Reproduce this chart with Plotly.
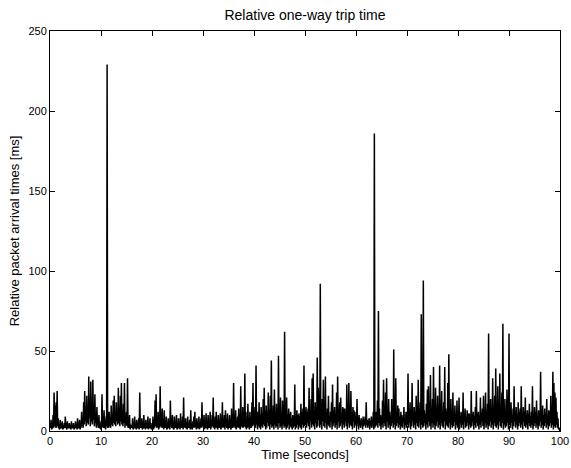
import plotly.graph_objects as go

# Sampling of the packet-delay trace (seconds between plotted samples)
sample_interval = 0.1

# Relative one-way trip time [ms], one list per 10 s.
# "pk" lists: samples at even steps (local maxima of the dense trace),
# "tr" lists: samples in between (the dense baseline near the axis).
pk_00 = [3, 7, 2, 10, 24, 16, 18, 25, 8, 2, 7, 2, 6, 2, 5, 9, 2, 6, 2, 5,
         2, 6, 2, 5, 2, 6, 3, 8, 2, 7, 3, 12, 5, 18, 25, 10, 22, 12, 34, 18,
         31, 14, 32, 12, 23, 7, 15, 4, 10, 3]
tr_00 = [2, 1, 2, 2, 3, 2, 2, 3, 2, 1, 2, 2, 1, 2, 2, 3, 1, 2, 2, 2,
         1, 2, 2, 1, 2, 2, 1, 2, 2, 1, 2, 3, 2, 4, 6, 3, 5, 4, 8, 3,
         6, 4, 7, 3, 5, 2, 4, 2, 2, 1]
pk_10 = [6, 23, 3, 13, 3, 9, 229, 4, 12, 5, 16, 8, 19, 22, 11, 18, 12, 27, 14, 22,
         30, 10, 17, 30, 8, 12, 33, 5, 10, 4, 3, 8, 2, 9, 3, 7, 2, 8, 24, 3,
         8, 2, 10, 3, 7, 2, 9, 3, 8, 2]
tr_10 = [2, 3, 2, 2, 1, 3, 2, 2, 3, 2, 4, 3, 5, 4, 3, 6, 4, 5, 3, 6,
         4, 3, 5, 2, 4, 3, 2, 2, 1, 2, 2, 1, 2, 2, 1, 2, 2, 1, 2, 2,
         1, 2, 2, 1, 2, 2, 1, 2, 2, 1]
pk_20 = [5, 9, 3, 19, 23, 7, 12, 3, 28, 8, 14, 3, 13, 3, 9, 2, 8, 3, 19, 4,
         10, 2, 9, 3, 10, 2, 8, 3, 11, 4, 9, 21, 3, 8, 2, 9, 3, 7, 13, 2,
         6, 9, 12, 3, 8, 2, 9, 3, 8, 18]
tr_20 = [2, 1, 2, 3, 2, 2, 1, 2, 3, 2, 2, 1, 2, 2, 1, 2, 2, 1, 3, 2,
         2, 1, 2, 2, 1, 2, 2, 1, 2, 2, 1, 3, 2, 2, 1, 2, 2, 1, 2, 1,
         2, 2, 3, 1, 2, 2, 1, 2, 2, 3]
pk_30 = [6, 10, 3, 11, 2, 10, 3, 12, 4, 10, 21, 3, 9, 12, 2, 10, 4, 11, 3, 18,
         7, 10, 13, 3, 11, 4, 10, 2, 14, 4, 30, 5, 13, 3, 9, 14, 4, 28, 6, 15,
         9, 36, 12, 5, 17, 3, 12, 5, 18, 30]
tr_30 = [2, 1, 2, 3, 1, 2, 2, 1, 2, 3, 2, 1, 2, 3, 1, 2, 2, 1, 3, 2,
         2, 1, 3, 2, 1, 2, 3, 1, 2, 2, 3, 2, 1, 3, 2, 2, 1, 3, 2, 2,
         3, 2, 1, 2, 3, 1, 2, 2, 3, 4]
pk_40 = [9, 15, 41, 12, 12, 18, 10, 15, 11, 20, 27, 13, 16, 9, 24, 12, 22, 44, 10, 16,
         26, 11, 17, 14, 47, 12, 21, 9, 19, 10, 62, 12, 21, 9, 14, 11, 12, 8, 10, 9,
         29, 8, 13, 10, 11, 9, 17, 12, 14, 41]
tr_40 = [3, 2, 4, 1, 3, 2, 1, 3, 2, 4, 3, 1, 2, 5, 3, 1, 4, 2, 3, 1,
         4, 2, 3, 1, 5, 2, 3, 1, 4, 2, 3, 1, 2, 4, 1, 3, 2, 1, 2, 3,
         1, 2, 4, 1, 3, 2, 1, 4, 2, 3]
pk_50 = [10, 15, 12, 14, 27, 13, 20, 33, 36, 10, 18, 12, 46, 27, 14, 92, 11, 20, 32, 13,
         34, 10, 14, 22, 9, 12, 18, 29, 12, 15, 10, 24, 34, 13, 18, 21, 10, 15, 14, 14,
         9, 29, 10, 30, 12, 25, 11, 15, 13, 12]
tr_50 = [4, 2, 5, 3, 1, 6, 2, 4, 3, 1, 5, 2, 3, 7, 2, 4, 1, 6, 3, 2,
         5, 1, 4, 3, 2, 6, 1, 3, 5, 2, 4, 1, 6, 2, 3, 5, 1, 4, 2, 6,
         3, 1, 5, 2, 4, 3, 1, 6, 2, 4]
pk_60 = [9, 20, 6, 10, 5, 8, 6, 9, 5, 9, 18, 7, 5, 8, 6, 9, 5, 12, 186, 8,
         12, 19, 75, 14, 10, 9, 19, 32, 10, 24, 33, 11, 20, 12, 9, 20, 9, 51, 12, 33,
         8, 16, 14, 9, 12, 10, 8, 15, 8, 12]
tr_60 = [3, 5, 1, 4, 2, 6, 1, 3, 5, 2, 4, 2, 6, 1, 3, 2, 5, 1, 2, 3,
         4, 2, 5, 3, 1, 4, 2, 5, 3, 1, 6, 2, 4, 1, 3, 5, 2, 4, 1, 3,
         5, 2, 4, 1, 3, 2, 6, 1, 4, 2]
pk_70 = [12, 36, 12, 18, 11, 30, 9, 15, 12, 22, 10, 32, 9, 18, 73, 12, 94, 13, 11, 17,
         26, 28, 12, 35, 11, 20, 40, 12, 27, 13, 22, 11, 41, 11, 25, 12, 18, 40, 14, 12,
         30, 48, 11, 20, 10, 24, 12, 16, 11, 19]
tr_70 = [4, 2, 5, 1, 3, 6, 2, 4, 1, 5, 3, 2, 6, 1, 4, 2, 3, 5, 1, 4,
         2, 6, 3, 1, 5, 2, 4, 1, 3, 6, 2, 4, 1, 5, 3, 2, 6, 1, 4, 3,
         2, 5, 1, 4, 2, 3, 6, 1, 4, 2]
pk_80 = [10, 21, 9, 12, 11, 24, 10, 14, 9, 13, 11, 11, 9, 25, 10, 12, 9, 15, 25, 11,
         12, 9, 21, 11, 14, 22, 9, 24, 12, 17, 61, 11, 20, 12, 33, 13, 22, 39, 10, 28,
         15, 36, 11, 24, 67, 12, 20, 11, 26, 13]
tr_80 = [3, 1, 5, 2, 4, 1, 6, 2, 3, 5, 1, 4, 2, 3, 6, 1, 4, 2, 5, 3,
         1, 4, 2, 6, 3, 1, 5, 2, 4, 1, 3, 6, 2, 4, 1, 5, 3, 2, 4, 1,
         6, 3, 2, 5, 1, 4, 2, 3, 5, 1]
pk_90 = [61, 9, 18, 10, 14, 28, 11, 15, 9, 18, 12, 14, 28, 10, 15, 12, 21, 9, 13, 11,
         17, 9, 12, 28, 10, 15, 12, 19, 9, 13, 11, 37, 9, 16, 10, 14, 11, 20, 9, 13,
         12, 22, 10, 37, 30, 24, 21, 12, 8, 2]
tr_90 = [4, 2, 5, 1, 3, 6, 2, 4, 1, 3, 5, 2, 4, 1, 6, 3, 2, 4, 1, 5,
         3, 2, 4, 1, 3, 5, 2, 4, 1, 3, 6, 2, 4, 1, 3, 5, 2, 4, 1, 3,
         5, 2, 4, 1, 3, 2, 4, 2, 1, 1]
final_value = [0]

x_ticks = [0, 10, 20, 30, 40, 50, 60, 70, 80, 90, 100]
y_ticks = [0, 50, 100, 150, 200, 250]

peaks = pk_00 + pk_10 + pk_20 + pk_30 + pk_40 + pk_50 + pk_60 + pk_70 + pk_80 + pk_90
troughs = tr_00 + tr_10 + tr_20 + tr_30 + tr_40 + tr_50 + tr_60 + tr_70 + tr_80 + tr_90
delay = [v for pair in zip(peaks, troughs) for v in pair] + final_value
time = [round(i * sample_interval, 1) for i in range(len(delay))]

fig = go.Figure()
fig.add_trace(go.Scatter(
    x=time, y=delay, mode="lines",
    line=dict(color="black", width=1.5, simplify=False),
    hoverinfo="x+y", showlegend=False,
))

axis_common = dict(
    ticks="inside", ticklen=5, tickwidth=1, tickcolor="black",
    showline=True, linecolor="black", linewidth=1, mirror="allticks",
    showgrid=False, zeroline=False,
    tickfont=dict(size=11, color="black"),
)

fig.update_layout(
    width=571, height=468,
    margin=dict(l=50, r=11, t=31, b=37, autoexpand=False),
    paper_bgcolor="white", plot_bgcolor="white",
    font=dict(family="Liberation Sans, Arial, Helvetica, sans-serif", color="black"),
    title=dict(text="Relative one-way trip time", x=0.5, xref="paper", xanchor="center",
               y=1 - 15 / 468, yref="container", yanchor="middle",
               font=dict(size=14, color="black")),
)
fig.update_xaxes(range=[0, 100], tickvals=x_ticks, ticktext=[str(v) for v in x_ticks],
                 title=dict(text="Time [seconds]", font=dict(size=13), standoff=3),
                 **axis_common)
fig.update_yaxes(range=[0, 250], tickvals=y_ticks, ticktext=[str(v) for v in y_ticks],
                 title=dict(text="Relative packet arrival times [ms]", font=dict(size=13), standoff=5),
                 **axis_common)

fig.write_html("out.html", config={"displayModeBar": False},
               post_script="document.body.style.margin='0px';document.body.style.overflow='hidden';")
